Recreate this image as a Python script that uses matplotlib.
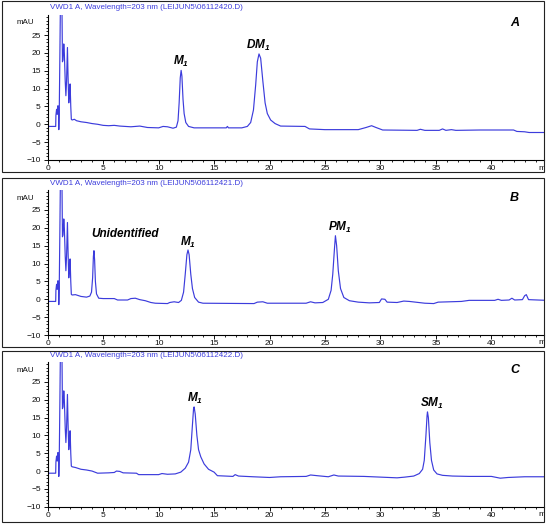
import matplotlib
matplotlib.use("Agg")
import matplotlib.pyplot as plt
from matplotlib.patches import Rectangle
from matplotlib.ticker import MultipleLocator
import numpy as np

plt.rcParams['font.family'] = ['Liberation Sans', 'DejaVu Sans']
# the subscript "1" of the peak names is bold italic like the rest of the label
plt.rcParams['mathtext.fontset'] = 'custom'
plt.rcParams['mathtext.rm'] = 'Liberation Sans:bold:italic'
plt.rcParams['mathtext.it'] = 'Liberation Sans:bold:italic'
plt.rcParams['mathtext.bf'] = 'Liberation Sans:bold:italic'

# solvent front, same in all three runs: (min, mAU)
front_t = [0.0, 0.72, 0.74, 0.80, 0.86, 0.92, 0.97, 1.00, 1.04, 1.10, 1.15, 1.28, 1.33,
           1.38, 1.45, 1.50, 1.58, 1.64, 1.70, 1.78, 1.83, 1.90, 1.95, 2.02, 2.08, 2.13]
front_v = [-0.6, -0.6, 2.5, 4.2, 2.8, 5.2, 4.8, -1.5, 3.0, 20.0, 35.0, 35.0, 17.5,
           18.0, 22.5, 20.0, 12.0, 8.0, 12.0, 21.5, 14.0, 6.0, 8.0, 11.3, 5.0, 1.4]

# run A
time_a = [2.2, 2.4, 2.6, 3.0, 3.5, 4.0, 4.5, 5.0, 5.5, 6.0, 6.5, 7.5, 8.3, 9.0, 10.0,
          10.4, 10.8, 11.3, 11.6, 11.75, 11.85, 11.95, 12.03, 12.1, 12.2, 12.3, 12.45,
          12.7, 13.2, 16.1, 16.2, 16.3, 17.5, 18.0, 18.3, 18.55, 18.75, 18.9, 19.05,
          19.2, 19.4, 19.6, 19.8, 20.1, 20.5, 21.0, 23.2, 23.6, 25.0, 28.0, 28.7, 29.2,
          29.6, 30.2, 33.3, 33.6, 34.0, 35.3, 35.6, 35.9, 36.4, 36.8, 39.0, 42.0, 42.3,
          43.0, 43.4, 45.0]
mau_a = [1.2, 1.4, 1.0, 0.7, 0.5, 0.2, 0.0, -0.3, -0.4, -0.3, -0.5, -0.7, -0.5, -0.9, -1.0,
         -0.6, -0.7, -1.1, -0.8, 1.0, 6.0, 13.0, 15.1, 13.5, 7.0, 3.0, 0.5,
         -0.6, -1.0, -1.0, -0.6, -1.0, -1.0, -0.6, 0.5, 4.0, 11.0, 17.5, 19.7,
         18.5, 12.0, 6.0, 3.0, 1.2, 0.2, -0.5, -0.6, -1.3, -1.5, -1.5, -0.9, -0.4,
         -0.9, -1.6, -1.7, -1.4, -1.7, -1.7, -1.3, -1.7, -1.5, -1.7, -1.6, -1.6, -2.0,
         -2.1, -2.3, -2.3]

# run B
time_b = [2.2, 2.5, 3.0, 3.5, 3.8, 3.95, 4.05, 4.12, 4.17, 4.23, 4.3, 4.4, 4.6, 5.0, 6.0,
          6.3, 7.2, 7.5, 7.9, 8.3, 8.8, 9.3, 9.7, 10.8, 11.0, 11.4, 11.8, 12.05, 12.25,
          12.4, 12.55, 12.65, 12.75, 12.9, 13.05, 13.25, 13.6, 14.0, 18.6, 18.9, 19.4,
          19.8, 21.0, 23.3, 23.7, 24.1, 24.8, 25.3, 25.55, 25.7, 25.85, 25.94, 26.05,
          26.2, 26.4, 26.7, 27.2, 28.0, 29.0, 29.9, 30.1, 30.4, 30.6, 31.5, 32.1, 32.6,
          34.0, 34.8, 35.2, 37.3, 38.0, 40.3, 40.6, 40.9, 41.6, 41.85, 42.1, 42.8, 43.0,
          43.15, 43.35, 45.0]
mau_b = [1.2, 1.3, 0.8, 0.6, 0.9, 2.0, 6.0, 12.0, 13.6, 11.0, 5.0, 1.5, 0.3, 0.2, 0.2,
         -0.2, -0.2, 0.2, 0.3, -0.1, -0.4, -0.9, -1.1, -1.2, -0.9, -0.7, -0.9, -0.3, 2.0,
         7.0, 12.5, 13.8, 12.5, 7.0, 3.0, 0.5, -0.8, -1.1, -1.2, -0.8, -0.7,
         -1.1, -1.1, -1.1, -0.7, -1.0, -0.9, 0.0, 2.5, 7.0, 14.0, 17.8, 15.0,
         8.0, 3.0, 0.5, -0.4, -0.8, -1.0, -0.9, 0.1, 0.0, -0.8, -0.9, -0.5, -0.6,
         -1.1, -1.2, -0.8, -0.6, -0.3, -0.3, 0.0, -0.3, -0.2, 0.3, -0.2, -0.1, 1.0,
         1.3, -0.1, -0.3]

# run C
time_c = [2.2, 2.5, 3.0, 3.5, 4.0, 4.5, 5.5, 6.0, 6.2, 6.5, 6.8, 8.0, 8.2, 10.0, 10.3,
          10.8, 11.5, 12.0, 12.4, 12.7, 12.9, 13.05, 13.15, 13.2, 13.3, 13.45, 13.6,
          13.8, 14.1, 14.5, 15.0, 15.3, 16.7, 16.9, 17.2, 18.5, 20.0, 21.0, 23.3, 23.7,
          24.3, 25.3, 25.8, 26.2, 28.5, 30.0, 31.5, 32.2, 33.0, 33.5, 33.8, 33.95, 34.1,
          34.2, 34.24, 34.32, 34.45, 34.6, 34.8, 35.1, 35.6, 36.5, 38.0, 40.0, 40.8,
          41.5, 43.0, 45.0]
mau_c = [1.2, 1.0, 0.5, 0.3, 0.0, -0.6, -0.5, -0.4, 0.0, -0.1, -0.5, -0.6, -1.0, -1.0, -0.7,
         -0.9, -0.8, -0.3, 0.8, 2.5, 6.0, 13.0, 17.5, 18.0, 16.0, 10.0, 6.0,
         4.0, 2.0, 0.5, -0.3, -1.3, -1.5, -1.0, -1.4, -1.6, -1.8, -1.6, -1.5, -1.1,
         -1.3, -1.6, -1.1, -1.4, -1.5, -1.7, -1.9, -1.7, -1.4, -0.7, 0.5, 3.0, 10.0,
         15.5, 16.6, 15.0, 8.0, 3.0, 0.3, -0.8, -1.2, -1.4, -1.5, -1.5, -2.0,
         -1.8, -1.6, -1.6]

titles = ["VWD1 A, Wavelength=203 nm (LEIJUN5\\06112420.D)",
          "VWD1 A, Wavelength=203 nm (LEIJUN5\\06112421.D)",
          "VWD1 A, Wavelength=203 nm (LEIJUN5\\06112422.D)"]
panel_letters = ["A", "B", "C"]

# peak labels: (text, min, mAU)
labels_a = [("M$_1$", 12.06, 17.5), ("DM$_1$", 18.94, 22.2)]
labels_b = [("Unidentified", 6.97, 18.3), ("M$_1$", 12.62, 15.9),
            ("PM$_1$", 26.33, 20.1)]
labels_c = [("M$_1$", 13.25, 20.4), ("SM$_1$", 34.6, 19.0)]

BLUE = "#3c3cdc"
W, H = 550, 525


def fx(x):
    return x / W


def fy(y):
    return 1 - y / H


fig = plt.figure(figsize=(5.5, 5.25), dpi=100)

# pixel layout of each panel: box top, box bottom, axes top, axes bottom, title y
layout = [(1, 172.5, 15, 160, 7.3),
          (177.7, 347, 190, 335, 183.3),
          (350.5, 522, 362, 506.7, 355.7)]

runs = [(time_a, mau_a, labels_a), (time_b, mau_b, labels_b), (time_c, mau_c, labels_c)]

for i, (t, v, labels) in enumerate(runs):
    box_top, box_bot, ax_top, ax_bot, title_y = layout[i]

    box = Rectangle((fx(2), fy(box_bot)), fx(544) - fx(2), fy(box_top) - fy(box_bot),
                    transform=fig.transFigure, fill=False, edgecolor="#222222",
                    linewidth=0.8)
    fig.patches.append(box)

    ax = fig.add_axes([fx(47.7), fy(ax_bot), fx(543.5) - fx(47.7), fy(ax_top) - fy(ax_bot)])
    ax.patch.set_alpha(0)
    ax.plot(front_t + t, front_v + v, color=BLUE, linewidth=0.85)
    ax.set_xlim(0, 44.7)
    ax.set_ylim(-10, 30.6)

    ax.spines['top'].set_visible(False)
    ax.spines['right'].set_visible(False)
    for s in ['left', 'bottom']:
        ax.spines[s].set_linewidth(0.8)

    ax.xaxis.set_minor_locator(MultipleLocator(1))
    ax.yaxis.set_minor_locator(MultipleLocator(1))
    ax.set_xticks(np.arange(0, 45, 5))
    ax.set_yticks(np.arange(-10, 30, 5))
    ax.tick_params(which='major', length=3, width=0.7, labelsize=6, colors="#111111")
    ax.tick_params(which='minor', length=1.6, width=0.6)
    ax.tick_params(axis='x', pad=0.5)
    ax.tick_params(axis='y', pad=2)

    for text, x, y in labels:
        ax.text(x, y, text, fontsize=8.5, fontweight='bold', fontstyle='italic',
                ha='center', va='center', color="black")
    ax.text(42.1, 28.3, panel_letters[i], fontsize=9, fontweight='bold',
            fontstyle='italic', ha='center', va='center')

    fig.text(fx(50), fy(title_y), titles[i], color=BLUE, fontsize=5.8,
             ha='left', va='center')
    fig.text(fx(34), fy(ax_top + 8), "mAU", fontsize=5.8, ha='right', va='center',
             color="#111111")
    # the time unit sits at the far right and is cut by the panel frame, as in the source
    m = fig.text(fx(538.5), fy(ax_bot + 8), "min", fontsize=6, ha='left', va='center',
                 color="#111111")
    m.set_clip_path(box)

fig.savefig("out.png", dpi=100)
